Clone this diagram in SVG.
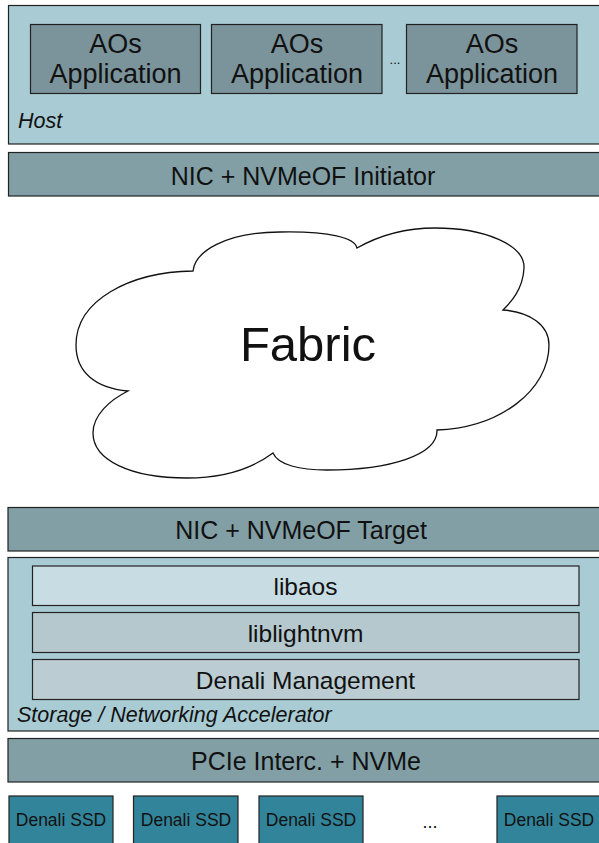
<svg xmlns="http://www.w3.org/2000/svg" width="599" height="843" viewBox="0 0 599 843">
<style>
text{font-family:"Liberation Sans",Arial,Helvetica,sans-serif;fill:#111;}
.box{stroke:#222;stroke-width:1.2;}
.host{fill:#a9cbd4;}
.app{fill:#7b939a;}
.bar{fill:#819fa5;}
.l1{fill:#c8dce3;}
.l2{fill:#b4c8ce;}
.l3{fill:#bbcdd3;}
.ssd{fill:#32849a;}
.t25{font-size:25px;text-anchor:middle;}
.t26{font-size:27px;text-anchor:middle;}
.t24{font-size:24.5px;text-anchor:middle;}
.ssdt{font-size:17.5px;text-anchor:middle;}
.lbl{font-size:21.5px;font-style:italic;}
</style>
<g id="host">
<rect class="box host" x="8.5" y="5.5" width="592" height="138.5"/>
<text class="lbl" x="18" y="128">Host</text>
</g>
<g id="app1">
<rect class="box app" x="30.5" y="24.5" width="170" height="69"/>
<text class="t26" x="115.5" y="53">AOs</text>
<text class="t26" x="115.5" y="83">Application</text>
</g>
<g id="app2">
<rect class="box app" x="211.5" y="24.5" width="170.5" height="69"/>
<text class="t26" x="297" y="53">AOs</text>
<text class="t26" x="297" y="83">Application</text>
</g>
<text id="appdots" x="395" y="64" style="font-size:13px;text-anchor:middle;">...</text>
<g id="app3">
<rect class="box app" x="406.5" y="24.5" width="170.5" height="69"/>
<text class="t26" x="492" y="53">AOs</text>
<text class="t26" x="492" y="83">Application</text>
</g>
<g id="nic-init">
<rect class="box bar" x="8.5" y="152.5" width="592" height="43.5"/>
<text class="t25" x="303" y="185">NIC + NVMeOF Initiator</text>
</g>
<g id="fabric">
<path d="M193,271 C195,252 225,232 280,232 C330,231 355,238 357,248 C380,235 405,228 435,228 C485,228 525,245 524,268 C523,290 510,303 503,310 C530,312 549,325 549,345 C549,390 500,428 437,430 C438,455 390,470 327,470 C300,470 278,465 273,453 C250,470 220,478 187,478 C130,478 93,460 93,433 C93,415 110,400 128,391 C95,388 76,372 76,345 C76,300 130,272 193,271 Z" fill="#fff" stroke="#111" stroke-width="1.3"/>
<text x="308" y="361" style="font-size:49px;text-anchor:middle;">Fabric</text>
</g>
<g id="nic-target">
<rect class="box bar" x="8" y="507.5" width="592" height="43.5"/>
<text class="t25" x="301" y="539">NIC + NVMeOF Target</text>
</g>
<g id="accel">
<rect class="box host" x="8" y="557.5" width="592" height="173.5"/>
<text class="lbl" x="17" y="722">Storage / Networking Accelerator</text>
</g>
<g id="libaos">
<rect class="box l1" x="32.5" y="566" width="546.5" height="39.5"/>
<text class="t24" x="305.5" y="595">libaos</text>
</g>
<g id="liblightnvm">
<rect class="box l2" x="32.5" y="612.5" width="546.5" height="40"/>
<text class="t24" x="305.5" y="641.5">liblightnvm</text>
</g>
<g id="denali-mgmt">
<rect class="box l3" x="32.5" y="659.5" width="546.5" height="40"/>
<text class="t24" x="305.5" y="689">Denali Management</text>
</g>
<g id="pcie">
<rect class="box bar" x="8" y="738.5" width="592" height="43.5"/>
<text class="t25" x="306" y="770">PCIe Interc. + NVMe</text>
</g>
<g id="ssd1">
<rect class="box ssd" x="9" y="796" width="104" height="50"/>
<text class="ssdt" x="61" y="826">Denali SSD</text>
</g>
<g id="ssd2">
<rect class="box ssd" x="133.5" y="796" width="104.5" height="50"/>
<text class="ssdt" x="186" y="826">Denali SSD</text>
</g>
<g id="ssd3">
<rect class="box ssd" x="259" y="796" width="104" height="50"/>
<text class="ssdt" x="311" y="826">Denali SSD</text>
</g>
<text id="ssddots" x="430" y="828" style="font-size:18px;text-anchor:middle;">...</text>
<g id="ssd4">
<rect class="box ssd" x="497" y="796" width="106" height="50"/>
<text class="ssdt" x="549" y="826">Denali SSD</text>
</g>
<g id="connectors"></g>
</svg>
